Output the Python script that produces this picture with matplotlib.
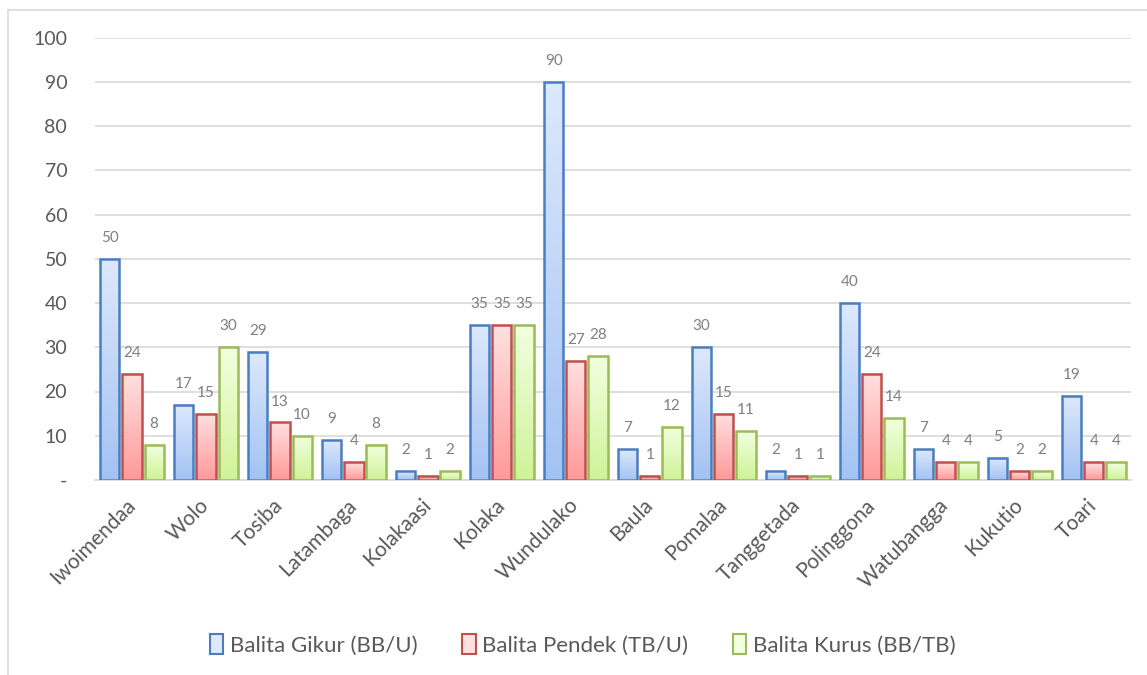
import numpy as np
import matplotlib.pyplot as plt
from matplotlib.patches import Rectangle
from matplotlib.lines import Line2D
from matplotlib.colors import LinearSegmentedColormap

plt.rcParams['font.family'] = ['Lato', 'DejaVu Sans']

desa = ['Iwoimendaa', 'Wolo', 'Tosiba', 'Latambaga', 'Kolakaasi', 'Kolaka',
        'Wundulako', 'Baula', 'Pomalaa', 'Tanggetada', 'Polinggona',
        'Watubangga', 'Kukutio', 'Toari']
gikur = [50, 17, 29, 9, 2, 35, 90, 7, 30, 2, 40, 7, 5, 19]
pendek = [24, 15, 13, 4, 1, 35, 27, 1, 15, 1, 24, 4, 2, 4]
kurus = [8, 30, 10, 8, 2, 35, 28, 12, 11, 1, 14, 4, 2, 4]

series = [
    ('Balita Gikur (BB/U)', gikur, '#dde9fc', '#a3c2f3', '#4a7ebf'),
    ('Balita Pendek (TB/U)', pendek, '#ffe0e0', '#ff9999', '#c0504d'),
    ('Balita Kurus (BB/TB)', kurus, '#f2ffe0', '#cff398', '#9bbb59'),
]

txt = '#595959'
lbl = '#7f7f7f'

fig = plt.figure(figsize=(11.47, 6.75), dpi=100)
ax = fig.add_axes([0.0828, 0.289, 0.903, 0.655])

# chart border (left and top only visible in the reference)
fig.add_artist(Line2D([8/1147, 8/1147], [0, 1 - 10/675], transform=fig.transFigure,
                      color='#d9d9d9', lw=1.2))
fig.add_artist(Line2D([8/1147, 1], [1 - 10/675, 1 - 10/675], transform=fig.transFigure,
                      color='#d9d9d9', lw=1.2))

x = np.arange(len(desa))
w = 0.26
step = 0.30
grad = np.linspace(0, 1, 256).reshape(-1, 1)

handles = []
for i, (name, vals, ctop, cbot, edge) in enumerate(series):
    cmap = LinearSegmentedColormap.from_list(name, [cbot, ctop])
    pos = x + (i - 1) * step
    for xi, v in zip(pos, vals):
        ax.imshow(grad, extent=[xi - w/2, xi + w/2, 0, v], origin='lower',
                  aspect='auto', cmap=cmap, zorder=2)
        ax.annotate(str(v), (xi, v), xytext=(0, 15), textcoords='offset points',
                    ha='center', va='center', fontsize=11, color=lbl)
    ax.bar(pos, vals, width=w, fill=False, edgecolor=edge, linewidth=1.8, zorder=3)
    handles.append(Rectangle((0, 0), 1, 1, facecolor=ctop, edgecolor=edge, linewidth=1.5))

ax.set_xlim(-0.5, len(desa) - 0.5)
ax.set_ylim(0, 100)
ax.set_yticks(range(0, 101, 10))
ax.set_yticklabels(['-'] + [str(v) for v in range(10, 101, 10)])
ax.set_xticks(x)
ax.set_xticklabels(desa, rotation=45, ha='right', va='center', rotation_mode='anchor')
ax.tick_params(axis='y', length=0, pad=20, labelsize=14, labelcolor=txt)
ax.tick_params(axis='x', length=0, pad=16, labelsize=15, labelcolor=txt)
ax.grid(axis='y', color='#d9d9d9', linewidth=1.2, zorder=0)
ax.set_axisbelow(True)
for s in ['top', 'right', 'left']:
    ax.spines[s].set_visible(False)
ax.spines['bottom'].set_color('#d9d9d9')
ax.spines['bottom'].set_linewidth(1.2)

fig.legend(handles, [s[0] for s in series], loc='center', bbox_to_anchor=(0.508, 1 - 645/675),
           ncol=3, frameon=False, fontsize=16, labelcolor=txt, handlelength=0.6,
           handleheight=1.0, handletextpad=0.3, columnspacing=2.0)

fig.savefig('out.png', dpi=100)
